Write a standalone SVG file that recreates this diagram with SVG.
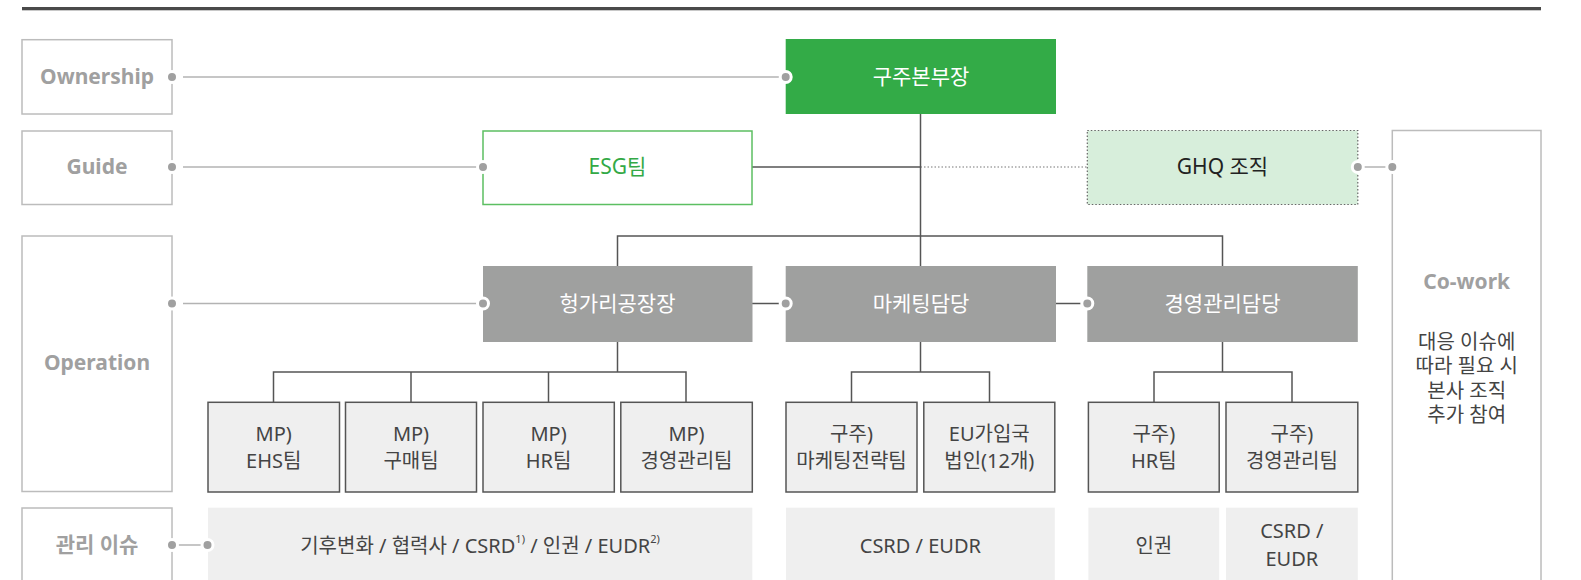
<svg xmlns="http://www.w3.org/2000/svg" width="1581" height="580" viewBox="0 0 1581 580">
<style>
text{font-family:"Noto Sans","Noto Sans CJK KR",sans-serif;text-anchor:middle;dominant-baseline:central}
.lbl{font-weight:700;font-size:21px;fill:#a0a0a0}
.t{font-size:20px;fill:#444}
.w{font-size:21px;fill:#fff}
.lb{fill:#fff;stroke:#bcbcbc;stroke-width:1.5}
.gb{fill:#9fa09f}
.ch{fill:#efefef;stroke:#555;stroke-width:1.5}
.is{fill:#efefef}
.dw{fill:#a0a0a0;stroke:#fff;stroke-width:3}
.ll{stroke:#b3b3b3;stroke-width:1.5;fill:none}
.tl{stroke:#555;stroke-width:1.5;fill:none}
.sup{font-size:11px}
</style>
<rect x="22" y="7" width="1519" height="3.3" fill="#4a4a4a"/>

<g id="connectors">
  <line class="ll" x1="183" y1="77" x2="780" y2="77"/>
  <line class="ll" x1="183" y1="167" x2="477" y2="167"/>
  <line class="ll" x1="183" y1="303.5" x2="477" y2="303.5"/>
  <line class="ll" x1="178" y1="545" x2="202" y2="545"/>
  <line class="tl" x1="752" y1="167" x2="920.5" y2="167"/>
  <line x1="920.5" y1="167" x2="1087" y2="167" stroke="#777" stroke-width="1.2" stroke-dasharray="1.5 2"/>
  <line class="ll" x1="1363" y1="167" x2="1387" y2="167"/>
  <line class="tl" x1="752" y1="303.5" x2="780" y2="303.5"/>
  <line class="tl" x1="1056" y1="303.5" x2="1082" y2="303.5"/>
  <line class="tl" x1="920.5" y1="114" x2="920.5" y2="266"/>
  <polyline class="tl" points="617.5,266 617.5,236 1222.5,236 1222.5,266"/>
  <line class="tl" x1="617.5" y1="342" x2="617.5" y2="372"/>
  <polyline class="tl" points="273.5,402 273.5,372 686,372 686,402"/>
  <line class="tl" x1="411" y1="372" x2="411" y2="402"/>
  <line class="tl" x1="548.5" y1="372" x2="548.5" y2="402"/>
  <line class="tl" x1="920.5" y1="342" x2="920.5" y2="372"/>
  <polyline class="tl" points="851.5,402 851.5,372 989.5,372 989.5,402"/>
  <line class="tl" x1="1222.5" y1="342" x2="1222.5" y2="372"/>
  <polyline class="tl" points="1154,402 1154,372 1292,372 1292,402"/>
</g>

<g id="label-ownership">
  <rect class="lb" x="22" y="39.7" width="150" height="74.3"/>
  <text class="lbl" x="97" y="76">Ownership</text>
  <circle class="dw" cx="172" cy="77" r="5.5"/>
</g>
<g id="label-guide">
  <rect class="lb" x="22" y="131" width="150" height="73.5"/>
  <text class="lbl" x="97" y="166">Guide</text>
  <circle class="dw" cx="172" cy="167" r="5.5"/>
</g>
<g id="label-operation">
  <rect class="lb" x="22" y="236" width="150" height="255.5"/>
  <text class="lbl" x="97" y="362">Operation</text>
  <circle class="dw" cx="172" cy="303.5" r="5.5"/>
</g>
<g id="label-issue">
  <rect class="lb" x="22" y="508" width="150" height="90"/>
  <text class="lbl" x="97" y="544">관리 이슈</text>
  <circle class="dw" cx="172" cy="545" r="5.5"/>
</g>

<g id="node-head">
  <rect x="785.7" y="39" width="270.3" height="75" fill="#33ab47"/>
  <text class="w" x="921" y="76">구주본부장</text>
  <circle class="dw" cx="785.7" cy="77" r="5.5"/>
</g>
<g id="node-esg">
  <rect x="483" y="131" width="269" height="73.5" fill="#fff" stroke="#5cbf62" stroke-width="1.5"/>
  <text x="617.5" y="166" font-size="21" fill="#33a946">ESG팀</text>
  <circle class="dw" cx="483" cy="167" r="5.5"/>
</g>
<g id="node-ghq">
  <rect x="1087.3" y="130.5" width="270.5" height="74" fill="#d7eedb" stroke="#666" stroke-width="1.2" stroke-dasharray="1.5 2"/>
  <text x="1222.5" y="166" font-size="21" fill="#222">GHQ 조직</text>
  <circle class="dw" cx="1357.8" cy="167" r="5.5"/>
</g>
<g id="node-cowork">
  <rect class="lb" x="1392.3" y="130.5" width="148.7" height="470"/>
  <circle class="dw" cx="1392.3" cy="167" r="5.5"/>
  <text class="lbl" x="1466.7" y="281">Co-work</text>
  <text class="t" x="1466.7" y="341">대응 이슈에<tspan x="1466.7" dy="24.3">따라 필요 시</tspan><tspan x="1466.7" dy="24.3">본사 조직</tspan><tspan x="1466.7" dy="24.3">추가 참여</tspan></text>
</g>

<g id="node-hungary">
  <rect class="gb" x="483" y="266" width="269.5" height="76"/>
  <text class="w" x="617.5" y="303">헝가리공장장</text>
  <circle class="dw" cx="483" cy="303.5" r="5.5"/>
</g>
<g id="node-marketing">
  <rect class="gb" x="785.7" y="266" width="270.3" height="76"/>
  <text class="w" x="921" y="303">마케팅담당</text>
  <circle class="dw" cx="785.7" cy="303.5" r="5.5"/>
</g>
<g id="node-mgmt">
  <rect class="gb" x="1087.3" y="266" width="270.5" height="76"/>
  <text class="w" x="1222.5" y="303">경영관리담당</text>
  <circle class="dw" cx="1087.3" cy="303.5" r="5.5"/>
</g>

<g id="node-mp-ehs">
  <rect class="ch" x="208" y="402.3" width="131.5" height="89.7"/>
  <text class="t" x="273.7" y="433">MP)</text>
  <text class="t" x="273.7" y="460">EHS팀</text>
</g>
<g id="node-mp-purchase">
  <rect class="ch" x="345.5" y="402.3" width="131" height="89.7"/>
  <text class="t" x="411" y="433">MP)</text>
  <text class="t" x="411" y="460">구매팀</text>
</g>
<g id="node-mp-hr">
  <rect class="ch" x="483" y="402.3" width="131.3" height="89.7"/>
  <text class="t" x="548.6" y="433">MP)</text>
  <text class="t" x="548.6" y="460">HR팀</text>
</g>
<g id="node-mp-mgmt">
  <rect class="ch" x="620.8" y="402.3" width="131.5" height="89.7"/>
  <text class="t" x="686.5" y="433">MP)</text>
  <text class="t" x="686.5" y="460">경영관리팀</text>
</g>
<g id="node-eu-mkt">
  <rect class="ch" x="786" y="402.3" width="131" height="89.7"/>
  <text class="t" x="851.5" y="433">구주)</text>
  <text class="t" x="851.5" y="460">마케팅전략팀</text>
</g>
<g id="node-eu-subs">
  <rect class="ch" x="923.8" y="402.3" width="131" height="89.7"/>
  <text class="t" x="989.3" y="433">EU가입국</text>
  <text class="t" x="989.3" y="460">법인(12개)</text>
</g>
<g id="node-eu-hr">
  <rect class="ch" x="1088.4" y="402.3" width="130.8" height="89.7"/>
  <text class="t" x="1153.8" y="433">구주)</text>
  <text class="t" x="1153.8" y="460">HR팀</text>
</g>
<g id="node-eu-mgmt">
  <rect class="ch" x="1226" y="402.3" width="131.8" height="89.7"/>
  <text class="t" x="1291.9" y="433">구주)</text>
  <text class="t" x="1291.9" y="460">경영관리팀</text>
</g>

<g id="issue-hungary">
  <rect class="is" x="208" y="507.7" width="544.3" height="80"/>
  <text class="t" x="480" y="545" font-size="22">기후변화 / 협력사 / CSRD<tspan class="sup" dy="-7">1)</tspan><tspan dy="7"> / 인권 / EUDR</tspan><tspan class="sup" dy="-7">2)</tspan></text>
  <circle class="dw" cx="207.5" cy="545" r="5.5"/>
</g>
<g id="issue-marketing">
  <rect class="is" x="786" y="507.7" width="268.8" height="80"/>
  <text class="t" x="920.4" y="545">CSRD / EUDR</text>
</g>
<g id="issue-hr">
  <rect class="is" x="1088.4" y="507.7" width="130.8" height="80"/>
  <text class="t" x="1153.8" y="545">인권</text>
</g>
<g id="issue-mgmt">
  <rect class="is" x="1226" y="507.7" width="131.8" height="80"/>
  <text class="t" x="1291.9" y="530">CSRD /</text>
  <text class="t" x="1291.9" y="558">EUDR</text>
</g>
</svg>
